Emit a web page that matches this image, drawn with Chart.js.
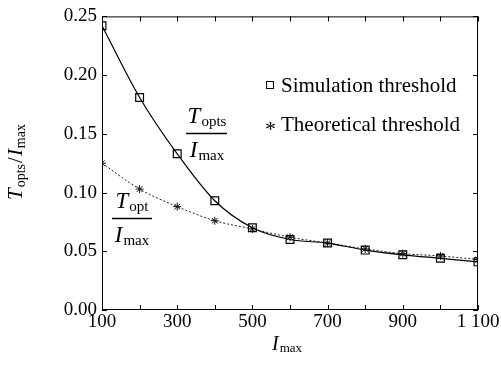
<!DOCTYPE html>
<html>
<head>
<meta charset="utf-8">
<script src="https://cdn.jsdelivr.net/npm/chart.js@4/dist/chart.umd.min.js"></script>
<style>
html, body { margin: 0; padding: 0; background: #fff; }
#wrap { width: 501px; height: 376px; }
</style>
</head>
<body>
<div id="wrap"><canvas id="c" width="501" height="376"></canvas></div>
<script>
var imax = [100, 200, 300, 400, 500, 600, 700, 800, 900, 1000, 1100];
var simulation = [0.242, 0.181, 0.133, 0.093, 0.070, 0.060, 0.057, 0.051, 0.047, 0.044, 0.041];
var theoretical = [0.125, 0.103, 0.088, 0.076, 0.069, 0.062, 0.057, 0.052, 0.048, 0.046, 0.043];
var xLabels = [100, 300, 500, 700, 900, 1100];
var yTicks = [0, 0.05, 0.10, 0.15, 0.20, 0.25];

var FONT = '"Liberation Serif", "Times New Roman", serif';

function pts(ys) {
    return imax.map(function (x, i) { return { x: x, y: ys[i] }; });
}

// italic base letter followed by an upright subscript; returns width
function mathText(ctx, base, sub, x, y, size, align) {
    var subSize = Math.round(size * 0.66);
    ctx.font = 'italic ' + size + 'px ' + FONT;
    var w1 = ctx.measureText(base).width;
    ctx.font = subSize + 'px ' + FONT;
    var w2 = ctx.measureText(sub).width;
    var w = w1 + w2 + 1;
    var x0 = align === 'center' ? x - w / 2 : x;
    ctx.textAlign = 'left';
    ctx.textBaseline = 'alphabetic';
    ctx.font = 'italic ' + size + 'px ' + FONT;
    ctx.fillText(base, x0, y);
    ctx.font = subSize + 'px ' + FONT;
    ctx.fillText(sub, x0 + w1 + 1, y + size * 0.12);
    return w;
}

function fraction(ctx, num, den, cx, numY, lineY, denY, x1, x2, size) {
    mathText(ctx, num[0], num[1], cx, numY, size, 'center');
    ctx.beginPath();
    ctx.moveTo(x1, lineY);
    ctx.lineTo(x2, lineY);
    ctx.lineWidth = 1.4;
    ctx.stroke();
    mathText(ctx, den[0], den[1], cx, denY, size, 'center');
}

var decor = {
    id: 'decor',
    afterDraw: function (chart) {
        var ctx = chart.ctx;
        var a = chart.chartArea;
        var xs = chart.scales.x, ys = chart.scales.y;
        ctx.save();
        ctx.strokeStyle = '#000';
        ctx.fillStyle = '#000';
        ctx.lineWidth = 1;
        ctx.strokeRect(a.left + 0.5, a.top + 0.5, a.right - a.left - 1, a.bottom - a.top - 1);
        // inward ticks
        ctx.beginPath();
        imax.forEach(function (v) {
            var px = Math.round(xs.getPixelForValue(v)) + 0.5;
            ctx.moveTo(px, a.bottom); ctx.lineTo(px, a.bottom - 5);
            ctx.moveTo(px, a.top); ctx.lineTo(px, a.top + 5);
        });
        yTicks.forEach(function (v) {
            var py = Math.round(ys.getPixelForValue(v)) + 0.5;
            ctx.moveTo(a.left, py); ctx.lineTo(a.left + 5, py);
            ctx.moveTo(a.right, py); ctx.lineTo(a.right - 5, py);
        });
        ctx.stroke();

        // legend
        ctx.font = '21px ' + FONT;
        ctx.textBaseline = 'middle';
        ctx.textAlign = 'left';
        ctx.strokeRect(266.5, 81.5, 7, 7);
        ctx.fillText('Simulation threshold', 281, 86);
        ctx.font = '22px ' + FONT;
        ctx.fillText('*', 265, 130);
        ctx.font = '21px ' + FONT;
        ctx.fillText('Theoretical threshold', 281, 125);

        // in-plot fraction annotations
        fraction(ctx, ['T', 'opts'], ['I', 'max'], 207, 123, 133.5, 157, 186, 227, 23);
        fraction(ctx, ['T', 'opt'], ['I', 'max'], 132, 208, 218.5, 242, 112, 152, 23);

        // x title
        mathText(ctx, 'I', 'max', 287, 350, 20, 'center');

        // y title (rotated)
        ctx.save();
        ctx.translate(22, 162);
        ctx.rotate(-Math.PI / 2);
        ctx.font = 'italic 21px ' + FONT;
        var wT = ctx.measureText('T').width;
        ctx.font = '14px ' + FONT;
        var wS = ctx.measureText('opts').width;
        ctx.font = '21px ' + FONT;
        var wSl = ctx.measureText('/').width;
        ctx.font = 'italic 21px ' + FONT;
        var wI = ctx.measureText('I').width;
        ctx.font = '14px ' + FONT;
        var wM = ctx.measureText('max').width;
        var total = wT + wS + wSl + wI + wM + 4;
        var x = -total / 2;
        ctx.textAlign = 'left';
        ctx.textBaseline = 'alphabetic';
        ctx.font = 'italic 21px ' + FONT; ctx.fillText('T', x, 0); x += wT + 1;
        ctx.font = '14px ' + FONT; ctx.fillText('opts', x, 3); x += wS + 1;
        ctx.font = '21px ' + FONT; ctx.fillText('/', x, 0); x += wSl + 1;
        ctx.font = 'italic 21px ' + FONT; ctx.fillText('I', x, 0); x += wI + 1;
        ctx.font = '14px ' + FONT; ctx.fillText('max', x, 3);
        ctx.restore();

        ctx.restore();
    }
};

new Chart(document.getElementById('c').getContext('2d'), {
    type: 'line',
    data: {
        datasets: [{
            label: 'Simulation threshold',
            data: pts(simulation),
            borderColor: '#000',
            borderWidth: 1.2,
            pointStyle: 'rect',
            pointRadius: 5.5,
            pointBackgroundColor: 'rgba(255,255,255,0)',
            pointBorderColor: '#000',
            pointBorderWidth: 1.2,
            cubicInterpolationMode: 'monotone',
            fill: false
        }, {
            label: 'Theoretical threshold',
            data: pts(theoretical),
            borderColor: '#222',
            borderWidth: 1,
            borderDash: [2, 2],
            pointStyle: 'star',
            pointRadius: 4,
            pointBorderColor: '#111',
            pointBorderWidth: 1,
            cubicInterpolationMode: 'monotone',
            fill: false
        }]
    },
    options: {
        responsive: false,
        animation: false,
        events: [],
        layout: { padding: { top: 13, right: 23, left: 0, bottom: 0 } },
        plugins: { legend: { display: false }, tooltip: { enabled: false } },
        scales: {
            x: {
                type: 'linear',
                min: 100,
                max: 1100,
                afterBuildTicks: function (s) { s.ticks = xLabels.map(function (v) { return { value: v }; }); },
                afterFit: function (s) { s.height = 66; },
                grid: { display: false, drawTicks: false },
                border: { display: false },
                ticks: {
                    color: '#000',
                    padding: 1,
                    maxRotation: 0,
                    font: { family: FONT, size: 19 },
                    callback: function (v) { return v === 1100 ? '1 100' : String(v); }
                }
            },
            y: {
                min: 0,
                max: 0.25,
                afterBuildTicks: function (s) { s.ticks = yTicks.map(function (v) { return { value: v }; }); },
                afterFit: function (s) { s.width = 102; },
                grid: { display: false, drawTicks: false },
                border: { display: false },
                ticks: {
                    color: '#000',
                    padding: 5,
                    font: { family: FONT, size: 19 },
                    callback: function (v) { return v.toFixed(2); }
                }
            }
        }
    },
    plugins: [decor]
});
</script>
</body>
</html>
